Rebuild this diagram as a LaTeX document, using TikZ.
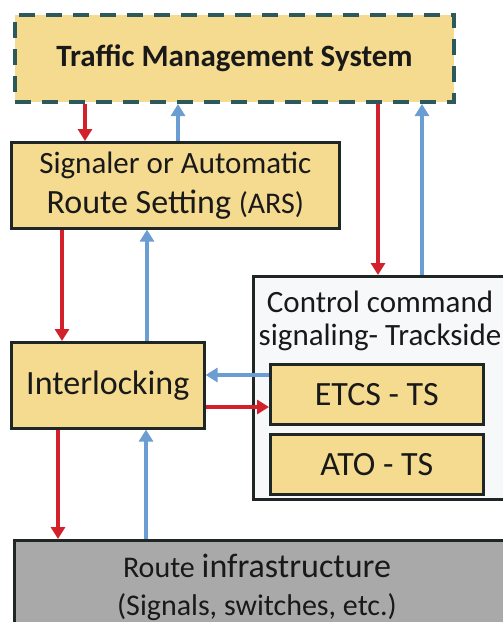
\documentclass[tikz,border=0pt]{standalone}
\usepackage{fontspec}
\setmainfont{Carlito}
\usetikzlibrary{arrows.meta}
\definecolor{boxfill}{HTML}{F5DB8F}
\definecolor{dashcol}{HTML}{2C5A5C}
\definecolor{edgecol}{HTML}{1E2626}
\definecolor{panelfill}{HTML}{F7F8FA}
\definecolor{infrafill}{HTML}{A9A9A9}
\definecolor{cmdred}{HTML}{D3212B}
\definecolor{fbblue}{HTML}{6C9DD2}
\newcommand{\fs}[1]{\fontsize{#1}{#1}\selectfont}
\tikzset{
  blk/.style={draw=edgecol, line width=2.6pt, fill=boxfill, inner sep=0pt,
    anchor=north west, align=center, text=black!90},
  redarr/.style={draw=cmdred, line width=3.8pt,
    -{Triangle[width=14pt,length=12pt]}},
  bluearr/.style={draw=fbblue, line width=3.8pt,
    -{Triangle[width=14pt,length=12pt]}}
}
\begin{document}
\begin{tikzpicture}[x=1pt,y=-1pt]
\useasboundingbox (0,0) rectangle (503,622);
\clip (0,0) rectangle (503,622);

% Traffic management system (dashed outline)
\node[blk, draw=dashcol, line width=4pt, dash pattern=on 16pt off 11pt,
  minimum width=439pt, minimum height=87pt] (tms) at (13,13)
  {\fs{31}\bfseries Traffic Management System};

% Signaler / ARS
\node[blk, minimum width=328pt, minimum height=86pt] (sig) at (10,141)
  {\fs{31}Signaler or Automatic\\[10pt]
   \fs{34}Route Setting {\fs{30}(ARS)}};

% Interlocking
\node[blk, minimum width=193pt, minimum height=86pt] (ilk) at (10,341)
  {\fs{34}Interlocking};

% Control command signaling - trackside panel
\node[draw=edgecol, line width=2.8pt, fill=panelfill, anchor=north west,
  inner sep=0pt, minimum width=262pt, minimum height=223pt] (ccs) at (252,275) {};
\node[align=center, text=black!90, inner sep=0pt] (ccstitle) at (380,321)
  {\fs{31}Control command\\[11pt]\fs{31}signaling- Trackside};
\node[blk, minimum width=213pt, minimum height=60pt] (etcs) at (269,363)
  {\fs{34}ETCS - TS};
\node[blk, minimum width=213pt, minimum height=60pt] (ato) at (269,433)
  {\fs{34}ATO - TS};

% Route infrastructure
\node[blk, fill=infrafill, minimum width=500pt, minimum height=95pt] (inf) at (13,539) {};
\node[align=center, text=black!90, inner sep=0pt] (inftext) at (257,587)
  {\fs{30}Route {\fs{34}infrastructure}\\[15pt]\fs{30}(Signals, switches, etc.)};

% connector anchor points
\coordinate (a1) at ([xshift=72pt]tms.south west);
\coordinate (a2) at ([xshift=165pt]tms.south west);
\coordinate (a3) at ([xshift=365pt]tms.south west);
\coordinate (a4) at ([xshift=409pt]tms.south west);
\coordinate (b1) at ([xshift=52pt]sig.south west);
\coordinate (b2) at ([xshift=137pt]sig.south west);
\coordinate (c1) at ([xshift=48pt]ilk.south west);
\coordinate (c2) at ([xshift=136pt]ilk.south west);
\coordinate (d1) at ([yshift=-12pt]etcs.north west);
\coordinate (d2) at ([yshift=-44pt]etcs.north west);

% TMS <-> signaler
\draw[redarr]  (a1) -- (a1 |- sig.north);
\draw[bluearr] (a2 |- sig.north) -- (a2);
% TMS <-> trackside
\draw[redarr]  (a3) -- (a3 |- ccs.north);
\draw[bluearr] (a4 |- ccs.north) -- (a4);
% signaler <-> interlocking
\draw[redarr]  (b1) -- (b1 |- ilk.north);
\draw[bluearr] (b2 |- ilk.north) -- (b2);
% interlocking <-> ETCS
\draw[bluearr] (d1) -- (d1 -| ilk.east);
\draw[redarr]  (d2 -| ilk.east) -- (d2);
% interlocking <-> infrastructure
\draw[redarr]  (c1) -- (c1 |- inf.north);
\draw[bluearr] (c2 |- inf.north) -- (c2);
\end{tikzpicture}
\end{document}
